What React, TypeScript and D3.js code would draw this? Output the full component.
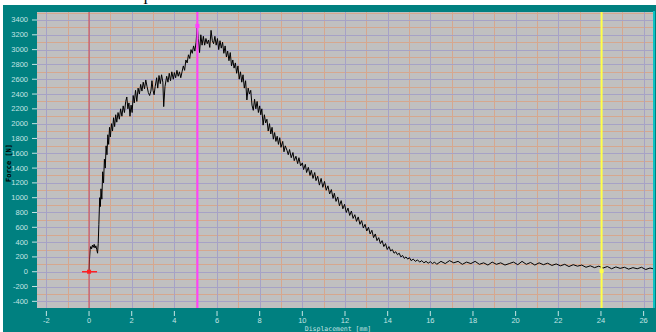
import * as d3 from "d3";
import { useEffect, useRef } from "react";

// tick values
const xTicks = [-2, 0, 2, 4, 6, 8, 10, 12, 14, 16, 18, 20, 22, 24, 26];
const xHalfGrid = [-1, 1, 3, 5, 7, 9, 11, 13, 15, 17, 19, 21, 23, 25];
const yTicks = [-400, -200, 0, 200, 400, 600, 800, 1000, 1200, 1400, 1600, 1800, 2000, 2200, 2400, 2600, 2800, 3000, 3200, 3400];
const yHalfGrid = [-300, -100, 100, 300, 500, 700, 900, 1100, 1300, 1500, 1700, 1900, 2100, 2300, 2500, 2700, 2900, 3100, 3300, 3500];

// displacement [mm], force [N]
const forceCurve: [number, number][] = [
  [0, 0], [0.02, 160], [0.05, 300], [0.08, 340], [0.12, 310], [0.16, 360], [0.2, 330], [0.24, 370],
  [0.28, 320], [0.32, 350], [0.36, 300], [0.4, 250], [0.43, 380], [0.46, 640], [0.5, 1000], [0.53, 880],
  [0.56, 1120], [0.6, 980], [0.64, 1350], [0.68, 1200], [0.72, 1520], [0.76, 1400], [0.8, 1700], [0.84, 1580],
  [0.88, 1850], [0.92, 1720], [0.96, 1950], [1.0, 1820], [1.05, 2000], [1.1, 1900], [1.15, 2080], [1.2, 1960],
  [1.25, 2120], [1.3, 2020], [1.36, 2150], [1.42, 2060], [1.48, 2200], [1.54, 2100], [1.6, 2240], [1.66, 2150],
  [1.72, 2300], [1.77, 2360], [1.82, 2200], [1.87, 2280], [1.92, 2100], [1.97, 2250], [2.02, 2150], [2.07, 2380],
  [2.12, 2280], [2.18, 2450], [2.24, 2300], [2.3, 2480], [2.36, 2400], [2.42, 2530], [2.48, 2440], [2.54, 2560],
  [2.6, 2470], [2.66, 2590], [2.72, 2500], [2.78, 2420], [2.84, 2380], [2.9, 2440], [2.95, 2580], [3.0, 2450],
  [3.05, 2390], [3.1, 2500], [3.17, 2620], [3.22, 2480], [3.28, 2650], [3.34, 2540], [3.4, 2660], [3.46, 2560],
  [3.5, 2230], [3.56, 2500], [3.64, 2640], [3.7, 2560], [3.76, 2680], [3.82, 2580], [3.88, 2700], [3.95, 2600],
  [4.0, 2690], [4.06, 2620], [4.12, 2720], [4.18, 2640], [4.24, 2700], [4.3, 2620], [4.36, 2700], [4.42, 2780],
  [4.48, 2720], [4.54, 2860], [4.6, 2820], [4.66, 2930], [4.72, 2880], [4.78, 3000], [4.84, 2950], [4.9, 3050],
  [4.96, 2980], [5.02, 3100], [5.07, 3320], [5.12, 3150], [5.18, 2960], [5.24, 3200], [5.3, 3060], [5.36, 3180],
  [5.42, 3060], [5.48, 3150], [5.54, 3080], [5.6, 3130], [5.66, 3030], [5.72, 3260], [5.78, 3120], [5.84, 3080],
  [5.9, 3180], [5.96, 3060], [6.02, 3150], [6.08, 3000], [6.14, 3120], [6.2, 3020], [6.26, 3100], [6.32, 2950],
  [6.38, 3050], [6.44, 2900], [6.5, 2980], [6.56, 2850], [6.62, 2960], [6.68, 2780], [6.74, 2860], [6.8, 2750],
  [6.86, 2820], [6.92, 2680], [6.98, 2780], [7.04, 2600], [7.1, 2700], [7.16, 2560], [7.22, 2660], [7.28, 2480],
  [7.34, 2580], [7.4, 2320], [7.46, 2480], [7.52, 2400], [7.58, 2450], [7.64, 2250], [7.7, 2180], [7.76, 2330],
  [7.82, 2200], [7.88, 2300], [7.94, 2150], [8.0, 2240], [8.05, 2120], [8.1, 2200], [8.16, 1980], [8.22, 2120],
  [8.28, 2010], [8.34, 2060], [8.4, 1900], [8.46, 2000], [8.52, 1860], [8.58, 1950], [8.64, 1790], [8.7, 1880],
  [8.76, 1760], [8.82, 1830], [8.88, 1720], [8.94, 1810], [9.0, 1680], [9.08, 1760], [9.14, 1620], [9.2, 1700],
  [9.28, 1640], [9.34, 1580], [9.4, 1650], [9.48, 1540], [9.56, 1610], [9.62, 1500], [9.7, 1560], [9.78, 1460],
  [9.84, 1540], [9.92, 1430], [10.0, 1470], [10.06, 1380], [10.14, 1450], [10.2, 1340], [10.28, 1410], [10.36, 1300],
  [10.42, 1370], [10.5, 1260], [10.58, 1340], [10.64, 1230], [10.72, 1290], [10.8, 1170], [10.88, 1260], [10.96, 1140],
  [11.04, 1220], [11.12, 1100], [11.2, 1160], [11.28, 1050], [11.36, 1110], [11.44, 990], [11.5, 1060], [11.58, 950],
  [11.66, 1010], [11.74, 890], [11.82, 960], [11.9, 850], [11.98, 910], [12.06, 800], [12.14, 860], [12.22, 760],
  [12.3, 820], [12.38, 720], [12.46, 770], [12.54, 680], [12.62, 740], [12.7, 640], [12.78, 690], [12.86, 590],
  [12.94, 640], [13.02, 550], [13.1, 600], [13.18, 510], [13.26, 560], [13.34, 460], [13.42, 510], [13.5, 420],
  [13.58, 460], [13.66, 380], [13.74, 420], [13.82, 340], [13.9, 380], [13.98, 300], [14.06, 340], [14.14, 280],
  [14.22, 300], [14.3, 250], [14.38, 270], [14.46, 230], [14.54, 250], [14.62, 200], [14.7, 220], [14.78, 180],
  [14.86, 200], [14.94, 170], [15.02, 190], [15.1, 150], [15.2, 170], [15.3, 140], [15.4, 160], [15.5, 130],
  [15.6, 150], [15.7, 120], [15.8, 140], [15.9, 115], [16.0, 135], [16.1, 110], [16.2, 130], [16.3, 100],
  [16.5, 140], [16.7, 110], [16.9, 150], [17.1, 120], [17.3, 140], [17.5, 100], [17.7, 130], [17.9, 110],
  [18.1, 140], [18.3, 100], [18.5, 120], [18.7, 90], [18.9, 130], [19.1, 100], [19.3, 120], [19.5, 90],
  [19.7, 110], [19.9, 130], [20.1, 95], [20.3, 140], [20.5, 100], [20.7, 125], [20.9, 90], [21.1, 120],
  [21.3, 95], [21.5, 115], [21.7, 85], [21.9, 105], [22.1, 80], [22.3, 100], [22.5, 70], [22.7, 95],
  [22.9, 75], [23.1, 90], [23.3, 60], [23.5, 80], [23.7, 55], [23.9, 75], [24.1, 50], [24.3, 70],
  [24.5, 40], [24.7, 65], [24.9, 45], [25.1, 60], [25.3, 35], [25.5, 55], [25.7, 40], [25.9, 60],
  [26.1, 30], [26.3, 50], [26.44, 40],
];

// cursor lines and their markers
const cursorX = [0, 5.08, 24.03];
const cursorY = [0, 3320, 10];
const cursorColors = ["#d84848", "#ff40ff", "#ffff48"];
const cursorWidths = [1, 2, 2];

const ForceChart = () => {
  const svgRef = useRef<SVGSVGElement | null>(null);

  const width = 656;
  const height = 332;
  const plot = { left: 37, right: 653, top: 12, bottom: 308 };
  const teal = "#008080";
  const pale = "#c4e4e4";

  useEffect(() => {
    const svg = d3.select(svgRef.current);
    svg.selectAll("*").remove();

    const x = d3.scaleLinear().domain([-2.44, 26.44]).range([plot.left, plot.right]);
    const y = d3.scaleLinear().domain([-490, 3508]).range([plot.bottom, plot.top]);

    // white page + cut title glyph
    svg.append("rect").attr("width", width).attr("height", height).attr("fill", "#fff");
    svg.append("text").attr("x", 145.5).attr("y", 4).attr("text-anchor", "middle")
      .style("font-family", "Liberation Serif").style("font-size", "14px").attr("fill", "#000").text("I");

    // teal panel
    svg.append("rect").attr("x", 3).attr("y", 5).attr("width", width - 3).attr("height", height - 5).attr("fill", teal);

    // plot background
    svg.append("rect")
      .attr("x", plot.left).attr("y", plot.top)
      .attr("width", plot.right - plot.left).attr("height", plot.bottom - plot.top)
      .attr("fill", "#c0c0c0");

    const grid = svg.append("g").attr("shape-rendering", "crispEdges");
    const orange = "#d6a78e";
    const purple = "#a6a2c6";
    grid.selectAll(".vh").data(xHalfGrid).enter().append("line")
      .attr("x1", d => Math.round(x(d)) + 0.5).attr("x2", d => Math.round(x(d)) + 0.5)
      .attr("y1", plot.top).attr("y2", plot.bottom).attr("stroke", orange);
    grid.selectAll(".hh").data(yHalfGrid).enter().append("line")
      .attr("y1", d => Math.round(y(d)) + 0.5).attr("y2", d => Math.round(y(d)) + 0.5)
      .attr("x1", plot.left).attr("x2", plot.right).attr("stroke", orange);
    grid.selectAll(".vm").data(xTicks).enter().append("line")
      .attr("x1", d => Math.round(x(d)) + 0.5).attr("x2", d => Math.round(x(d)) + 0.5)
      .attr("y1", plot.top).attr("y2", plot.bottom).attr("stroke", purple);
    grid.selectAll(".hm").data(yTicks).enter().append("line")
      .attr("y1", d => Math.round(y(d)) + 0.5).attr("y2", d => Math.round(y(d)) + 0.5)
      .attr("x1", plot.left).attr("x2", plot.right).attr("stroke", purple);

    // curve
    const line = d3.line<[number, number]>().x(d => x(d[0])).y(d => y(d[1]));
    svg.append("path").datum(forceCurve).attr("d", line)
      .attr("fill", "none").attr("stroke", "#000").attr("stroke-width", 1);

    // cursor lines
    cursorX.forEach((cx, i) => {
      svg.append("line")
        .attr("x1", x(cx)).attr("x2", x(cx)).attr("y1", plot.top).attr("y2", plot.bottom)
        .attr("stroke", cursorColors[i]).attr("stroke-width", cursorWidths[i]);
    });
    // red cross at origin
    svg.append("line")
      .attr("x1", x(cursorX[0]) - 7).attr("x2", x(cursorX[0]) + 8)
      .attr("y1", y(cursorY[0])).attr("y2", y(cursorY[0]))
      .attr("stroke", "#ff2020").attr("stroke-width", 1.5);
    cursorX.forEach((cx, i) => {
      svg.append("rect")
        .attr("x", x(cx) - 2).attr("y", y(cursorY[i]) - 2).attr("width", 4).attr("height", 4)
        .attr("fill", i === 0 ? "#ff2020" : cursorColors[i]);
    });

    // right edge line
    svg.append("line").attr("x1", 654).attr("x2", 654).attr("y1", plot.top - 1).attr("y2", plot.bottom)
      .attr("stroke", "#10d8d8").attr("stroke-width", 1.5);

    // y axis
    const yAxis = svg.append("g");
    yAxis.selectAll("line").data(yTicks).enter().append("line")
      .attr("x1", plot.left - 5).attr("x2", plot.left).attr("y1", d => y(d)).attr("y2", d => y(d))
      .attr("stroke", pale);
    yAxis.selectAll("text").data(yTicks).enter().append("text")
      .attr("x", 28).attr("y", d => y(d) + 2.5).attr("text-anchor", "end")
      .style("font-family", "Liberation Sans").style("font-size", "7.5px").attr("fill", pale)
      .text(d => d);

    // x axis
    const xAxis = svg.append("g");
    xAxis.selectAll("line").data(xTicks).enter().append("line")
      .attr("x1", d => x(d)).attr("x2", d => x(d)).attr("y1", plot.bottom + 3).attr("y2", plot.bottom + 8)
      .attr("stroke", pale);
    xAxis.selectAll("text").data(xTicks).enter().append("text")
      .attr("x", d => x(d)).attr("y", 323).attr("text-anchor", "middle")
      .style("font-family", "Liberation Sans").style("font-size", "7.5px").attr("fill", pale)
      .text(d => d);

    svg.append("text").attr("x", 338).attr("y", 331).attr("text-anchor", "middle")
      .style("font-family", "DejaVu Sans Mono").style("font-size", "6.5px").attr("fill", pale)
      .text("Displacement [mm]");

    svg.append("text").attr("transform", "translate(11,163) rotate(-90)").attr("text-anchor", "middle")
      .style("font-family", "DejaVu Sans Mono").style("font-size", "7px").style("font-weight", "bold")
      .attr("fill", "#000").text("Force [N]");
  }, []);

  return (
    <svg ref={svgRef} width={width} height={height}
      style={{ position: "absolute", left: 0, top: 0, display: "block" }}></svg>
  );
};

export default function App() {
  return <ForceChart />;
}
